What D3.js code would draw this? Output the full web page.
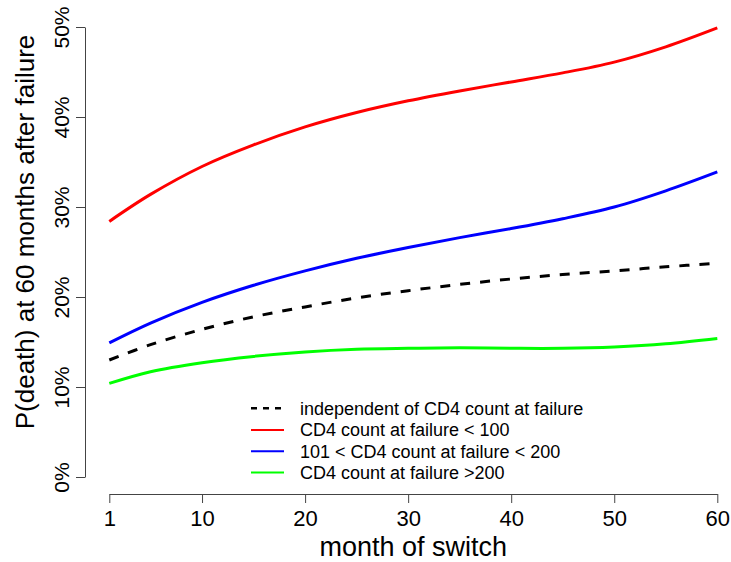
<!DOCTYPE html>
<html>
<head>
<meta charset="utf-8">
<script src="https://cdn.jsdelivr.net/npm/d3@7"></script>
<style>
  body { margin: 0; background: #fff; }
  svg text { font-family: "Liberation Sans", Arial, sans-serif; fill: #000; }
</style>
</head>
<body>
<div id="chart"></div>
<script>
const months = [1, 5, 10, 15, 20, 25, 30, 35, 40, 45, 50, 55, 60];

// P(death) in %, one array per curve
const overall = [13.0, 14.7, 16.4, 17.8, 18.9, 19.9, 20.7, 21.4, 22.0, 22.5, 22.9, 23.35, 23.75];
const cd4Low  = [28.4, 31.4, 34.5, 36.9, 38.9, 40.5, 41.8, 42.9, 43.9, 44.9, 46.1, 47.8, 49.9];
const cd4Mid  = [14.9, 17.1, 19.4, 21.3, 22.9, 24.3, 25.5, 26.6, 27.6, 28.7, 30.0, 31.8, 33.9];
const cd4High = [10.4, 11.7, 12.7, 13.4, 13.9, 14.2, 14.3, 14.35, 14.3, 14.3, 14.45, 14.8, 15.4];

const xTicks = [1, 10, 20, 30, 40, 50, 60];
const yTicks = [0, 10, 20, 30, 40, 50];

const series = [
  { name: "independent of CD4 count at failure", values: overall, color: "#000000", dash: "10,10" },
  { name: "CD4 count at failure < 100", values: cd4Low, color: "#ff0000", dash: null },
  { name: "101 < CD4 count at failure < 200", values: cd4Mid, color: "#0000ff", dash: null },
  { name: "CD4 count at failure >200", values: cd4High, color: "#00ff00", dash: null }
];

const width = 731, height = 562;

const svg = d3.select("#chart")
  .append("svg")
  .attr("width", width)
  .attr("height", height);

const x = d3.scaleLinear().domain([1, 60]).range([109.3, 717.3]);
const y = d3.scaleLinear().domain([0, 50]).range([477, 27]);

// x axis (R style, offset below the plot)
const xAxis = svg.append("g")
  .attr("transform", "translate(0,494)")
  .call(d3.axisBottom(x).tickValues(xTicks).tickSize(9).tickPadding(7).tickSizeOuter(0));
xAxis.select(".domain").attr("stroke", "#444");
xAxis.selectAll(".tick line").attr("stroke", "#444");
xAxis.selectAll(".tick text")
  .attr("font-size", 22)
  .attr("fill", "#000")
  .style("font-family", "Liberation Sans, Arial, sans-serif");

// y axis with rotated labels
const yAxis = svg.append("g")
  .attr("transform", "translate(85,0)")
  .call(d3.axisLeft(y).tickValues(yTicks).tickSize(9).tickSizeOuter(0).tickFormat(d => d + "%"));
yAxis.select(".domain").attr("stroke", "#444");
yAxis.selectAll(".tick line").attr("stroke", "#444");
yAxis.selectAll(".tick text")
  .attr("font-size", 21)
  .attr("fill", "#000")
  .attr("x", 0)
  .attr("dy", null)
  .attr("text-anchor", "middle")
  .attr("transform", "translate(-16,0) rotate(-90)")
  .style("font-family", "Liberation Sans, Arial, sans-serif");

// axis titles
svg.append("text")
  .attr("x", (x(1) + x(60)) / 2)
  .attr("y", 556)
  .attr("text-anchor", "middle")
  .attr("font-size", 27)
  .text("month of switch");

svg.append("text")
  .attr("transform", "translate(34,232) rotate(-90)")
  .attr("text-anchor", "middle")
  .attr("font-size", 26)
  .text("P(death) at 60 months after failure");

// curves
const line = d3.line()
  .x((d, i) => x(months[i]))
  .y(d => y(d))
  .curve(d3.curveCatmullRom.alpha(0.5));

svg.selectAll(".curve")
  .data(series)
  .enter()
  .append("path")
  .attr("class", "curve")
  .attr("fill", "none")
  .attr("stroke", d => d.color)
  .attr("stroke-width", 3)
  .attr("stroke-dasharray", d => d.dash)
  .attr("d", d => line(d.values));

// legend, no box
const legend = svg.append("g");
const rowY = [408.3, 430, 451.3, 472.5];

series.forEach((s, i) => {
  legend.append("line")
    .attr("x1", 251).attr("x2", 284)
    .attr("y1", rowY[i]).attr("y2", rowY[i])
    .attr("stroke", s.color)
    .attr("stroke-width", s.dash ? 2.5 : 2)
    .attr("stroke-dasharray", s.dash ? "6,6" : null);
  legend.append("text")
    .attr("x", 300)
    .attr("y", rowY[i])
    .attr("dy", "0.35em")
    .attr("font-size", 18)
    .text(s.name);
});
</script>
</body>
</html>
